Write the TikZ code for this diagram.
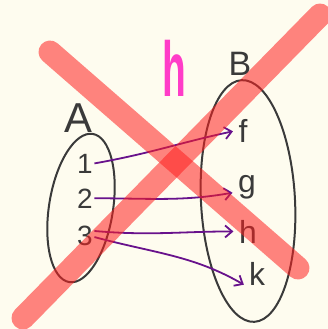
\documentclass[tikz,border=0pt]{standalone}
\usepackage{fontspec}
\setmainfont{Liberation Sans}
\usetikzlibrary{arrows.meta,shapes.geometric}
\definecolor{paper}{HTML}{FEFCEF}
\definecolor{ink}{HTML}{3A3A3A}
\definecolor{plum}{HTML}{68128C}
\definecolor{hotpink}{HTML}{FF3CC8}
\definecolor{xred}{HTML}{FF2020}

\begin{document}
\begin{tikzpicture}[x=1bp, y=1bp,
  elem/.style={font=\fontsize{28}{28}\selectfont, text=ink, inner sep=1.5pt, anchor=base},
  letter/.style={elem, font=\fontsize{32}{32}\selectfont},
  setlabel/.style={text=ink, anchor=base},
  setbox/.style={draw=ink, line width=2bp, ellipse, inner sep=0pt},
  arr/.style={-{Straight Barb[length=7bp, width=12bp]}, draw=plum, line width=1.8bp, shorten >=4bp},
  strike/.style={draw=xred, draw opacity=0.55, line width=23bp, line cap=round}]
  \fill[paper] (0,0) rectangle (328,-329);
  \useasboundingbox (0,0) rectangle (328,-329);

  \node[text=hotpink, anchor=base, font=\fontsize{78}{78}\selectfont\bfseries] (title) at (174,-96) {\scalebox{0.5}[1]{h}};

  % the two sets
  \node[setbox, minimum width=64bp, minimum height=150bp, rotate=-9] (setA) at (81,-208) {};
  \node[setbox, minimum width=94bp, minimum height=242bp, rotate=3] (setB) at (248,-201) {};
  \node[setlabel, font=\fontsize{42}{42}\selectfont] (nameA) at (78,-132) {A};
  \node[setlabel, font=\fontsize{34}{34}\selectfont] (nameB) at (240,-75) {B};

  \node[elem] (one) at (85,-173) {1};
  \node[elem] (two) at (85,-208) {2};
  \node[elem] (three) at (85,-245) {3};
  \node[letter] (f) at (243,-142) {f};
  \node[letter] (g) at (247,-192) {g};
  \node[letter] (h) at (248,-243) {h};
  \node[letter] (k) at (257,-285) {k};

  \draw[arr] (one.east) to[out=10, in=192] (f.west);
  \draw[arr] (two.east) to[out=0, in=190] (g.base west);
  \draw[arr] (three.25) to[out=-5, in=180] (h.west);
  \draw[arr] (three.-10) to[out=-15, in=150] (k.south west);

  % crossed out
  \draw[strike] (50,-52) -- (298,-268);
  \draw[strike] (23,-318) -- (320,-15);
\end{tikzpicture}
\end{document}
